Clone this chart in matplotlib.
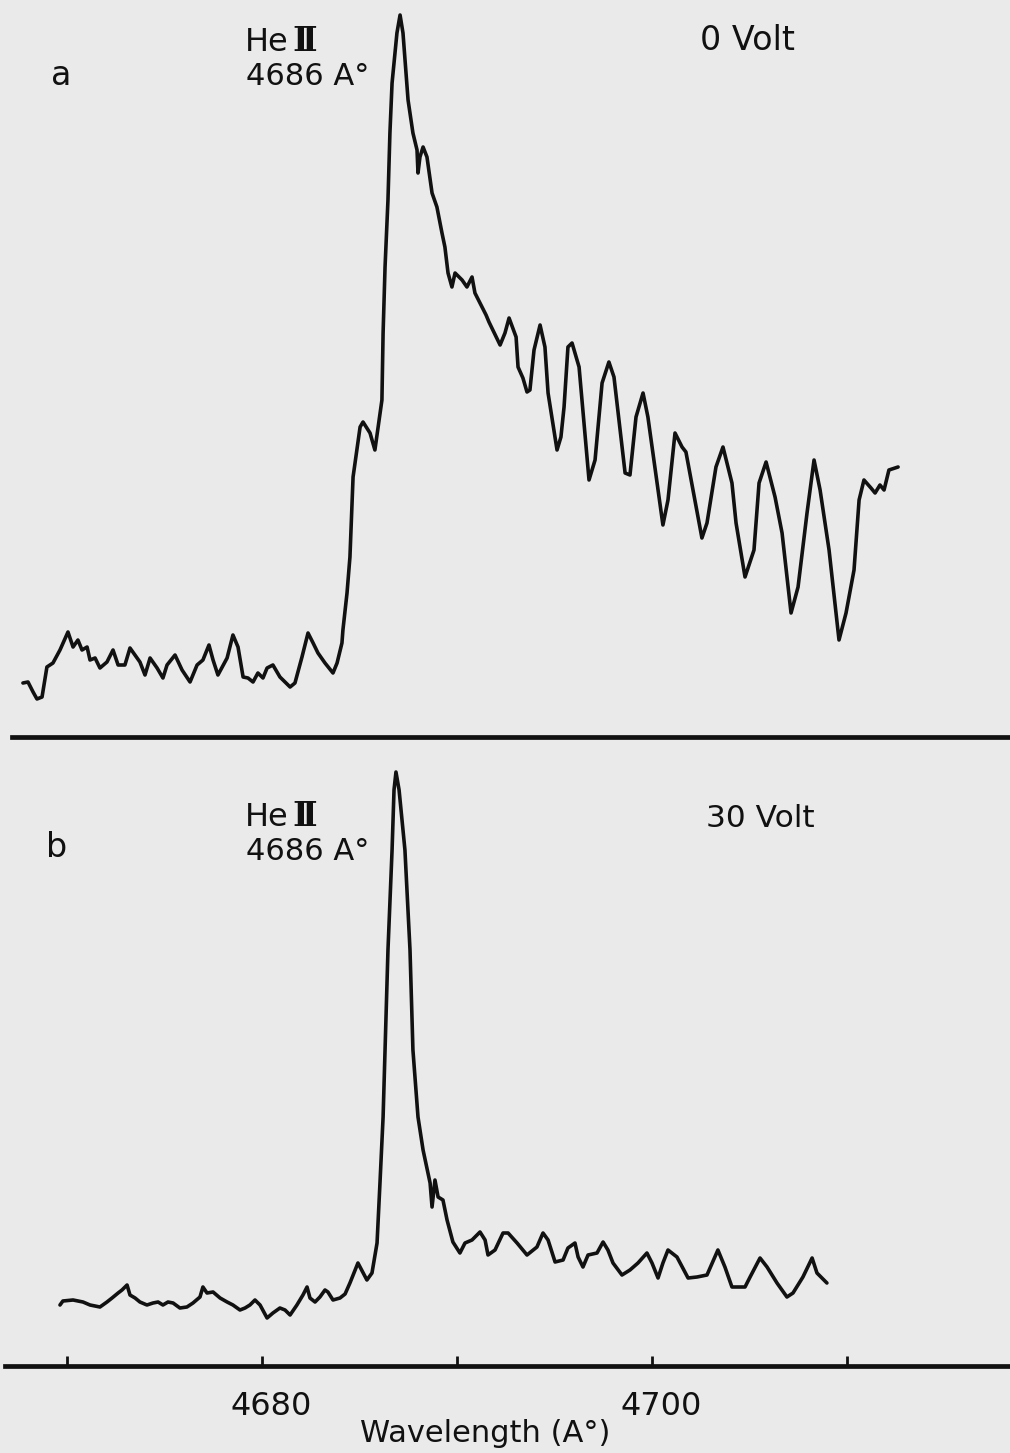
import numpy as np
import matplotlib
matplotlib.use("Agg")
import matplotlib.pyplot as plt

# panel a : 0 Volt  (wavelength in A, intensity in arbitrary recorder units)
wl_a = [4667.74, 4668.00, 4668.26, 4668.46, 4668.72, 4668.97, 4669.28, 4669.64, 4670.05, 4670.31,
        4670.56, 4670.77, 4671.03, 4671.18, 4671.44, 4671.69, 4672.05, 4672.36, 4672.62, 4672.97,
        4673.23, 4673.74, 4674.00, 4674.26, 4674.62, 4674.92, 4675.13, 4675.54, 4675.90, 4676.31,
        4676.67, 4676.97, 4677.28, 4677.49, 4677.74, 4678.21, 4678.51, 4678.77, 4679.03, 4679.28,
        4679.54, 4679.79, 4680.05, 4680.26, 4680.56, 4680.92, 4681.44, 4681.69, 4682.05, 4682.36,
        4682.62, 4682.87, 4683.23, 4683.64, 4683.85, 4684.10, 4684.15, 4684.36, 4684.51, 4684.67,
        4685.03, 4685.18, 4685.54, 4685.79, 4686.15, 4686.21, 4686.31, 4686.46, 4686.56, 4686.67,
        4686.92, 4687.08, 4687.23, 4687.49, 4687.74, 4687.95, 4688.00, 4688.10, 4688.26, 4688.46,
        4688.72, 4688.97, 4689.23, 4689.38, 4689.54, 4689.74, 4689.90, 4690.26, 4690.51, 4690.77,
        4690.92, 4691.28, 4691.49, 4691.64, 4692.21, 4692.46, 4692.67, 4693.03, 4693.13, 4693.38,
        4693.59, 4693.74, 4693.95, 4694.26, 4694.51, 4694.67, 4695.13, 4695.33, 4695.49, 4695.69,
        4695.90, 4696.26, 4696.77, 4697.08, 4697.44, 4697.79, 4698.05, 4698.62, 4698.87, 4699.18,
        4699.54, 4699.79, 4700.26, 4700.56, 4700.82, 4701.18, 4701.54, 4701.74, 4702.56, 4702.82,
        4703.28, 4703.64, 4704.10, 4704.31, 4704.77, 4705.23, 4705.49, 4705.85, 4706.31, 4706.67,
        4707.13, 4707.49, 4707.95, 4708.31, 4708.62, 4709.08, 4709.59, 4709.95, 4710.36, 4710.62,
        4710.87, 4711.23, 4711.44, 4711.69, 4711.90, 4712.15, 4712.62]
int_a = [54, 55, 45, 38, 40, 70, 74, 87, 105, 90,
         97, 87, 90, 77, 79, 69, 75, 87, 72, 72,
         89, 75, 62, 79, 69, 59, 72, 82, 67, 55,
         72, 77, 92, 77, 62, 79, 102, 90, 60, 59,
         55, 64, 59, 69, 72, 60, 50, 54, 80, 104,
         94, 84, 74, 64, 74, 94, 107, 144, 180, 260,
         310, 315, 304, 287, 337, 404, 470, 537, 604, 654,
         704, 722, 704, 637, 604, 587, 564, 580, 590, 580,
         544, 530, 504, 490, 464, 450, 464, 457, 450, 460,
         444, 430, 422, 415, 392, 404, 419, 400, 370, 359,
         345, 347, 387, 412, 390, 344, 287, 300, 330, 390,
         394, 370, 257, 277, 354, 375, 360, 264, 262, 320,
         344, 320, 254, 212, 237, 304, 290, 285, 199, 214,
         270, 290, 254, 214, 160, 187, 254, 275, 240, 204,
         124, 150, 224, 277, 247, 187, 97, 124, 167, 237,
         257, 249, 244, 252, 247, 267, 270]

# panel b : 30 Volt
wl_b = [4669.64, 4669.79, 4670.31, 4670.82, 4671.18, 4671.69, 4672.05, 4672.31, 4672.62, 4672.82,
        4673.08, 4673.23, 4673.49, 4673.74, 4674.10, 4674.41, 4674.67, 4674.92, 4675.18, 4675.44,
        4675.79, 4676.15, 4676.46, 4676.82, 4676.97, 4677.18, 4677.49, 4677.85, 4678.21, 4678.51,
        4678.87, 4679.13, 4679.38, 4679.64, 4679.90, 4680.26, 4680.56, 4680.92, 4681.18, 4681.44,
        4681.79, 4682.10, 4682.31, 4682.46, 4682.72, 4682.97, 4683.23, 4683.38, 4683.64, 4684.00,
        4684.26, 4684.51, 4684.92, 4685.38, 4685.64, 4685.90, 4686.05, 4686.21, 4686.31, 4686.46,
        4686.67, 4686.77, 4686.87, 4687.03, 4687.33, 4687.59, 4687.74, 4688.00, 4688.26, 4688.62,
        4688.72, 4688.87, 4689.03, 4689.28, 4689.49, 4689.79, 4690.15, 4690.41, 4690.77, 4691.18,
        4691.44, 4691.59, 4691.95, 4692.36, 4692.62, 4693.08, 4693.59, 4694.10, 4694.41, 4694.67,
        4695.03, 4695.44, 4695.69, 4696.05, 4696.21, 4696.46, 4696.72, 4697.18, 4697.49, 4697.74,
        4698.00, 4698.46, 4698.87, 4699.28, 4699.74, 4700.00, 4700.31, 4700.56, 4700.82, 4701.28,
        4701.85, 4702.31, 4702.82, 4703.38, 4703.74, 4704.10, 4704.77, 4705.03, 4705.54, 4705.90,
        4706.41, 4706.92, 4707.23, 4707.74, 4708.21, 4708.46, 4708.97]
int_b = [61, 65, 66, 64, 61, 59, 64, 68, 73, 76,
         81, 71, 68, 64, 61, 63, 64, 61, 64, 63,
         58, 59, 63, 69, 79, 73, 74, 68, 64, 61,
         56, 58, 61, 66, 61, 48, 53, 58, 56, 51,
         61, 71, 79, 68, 64, 69, 76, 74, 66, 68,
         72, 83, 103, 86, 93, 123, 183, 249, 316, 416,
         516, 576, 594, 576, 516, 416, 316, 249, 216, 183,
         159, 186, 169, 166, 146, 124, 113, 123, 126, 134,
         126, 111, 116, 133, 133, 123, 111, 119, 133, 126,
         104, 106, 118, 123, 109, 99, 111, 113, 124, 116,
         103, 91, 96, 103, 113, 103, 88, 103, 116, 109,
         88, 89, 91, 116, 99, 79, 79, 89, 108, 99,
         83, 69, 73, 89, 108, 93, 83]

tick_pos = [4670, 4680, 4690, 4700, 4710]
tick_labels = {4680: "4680", 4700: "4700"}

W, H = 1010, 1453
bg = "#eaeaea"
ink = "#111111"
xmin, xmax = 4680 - 262 / 19.5, 4680 + 748 / 19.5

fig = plt.figure(figsize=(W / 100, H / 100), dpi=100, facecolor=bg)
plt.rcParams["font.family"] = ["DejaVu Sans"]

y_a, y_b = 737, 1366
ax_a = fig.add_axes([0, 1 - y_a / H, 1, y_a / H])
ax_b = fig.add_axes([0, 1 - y_b / H, 1, (y_b - y_a) / H])

for ax, wl, it, top, x0 in [(ax_a, wl_a, int_a, y_a, 12), (ax_b, wl_b, int_b, y_b - y_a, 5)]:
    ax.set_facecolor("none")
    ax.plot(wl, it, color=ink, lw=2.6, solid_joinstyle="round", solid_capstyle="round")
    ax.set_xlim(xmin, xmax)
    ax.set_ylim(0, top)
    for s in ["top", "left", "right"]:
        ax.spines[s].set_visible(False)
    ax.spines["bottom"].set_linewidth(3.4)
    ax.spines["bottom"].set_color(ink)
    ax.spines["bottom"].set_bounds(xmin + x0 / 19.5, xmax)
    ax.set_yticks([])

ax_a.set_xticks([])
ax_b.set_xticks(tick_pos)
ax_b.tick_params(axis="x", direction="in", length=7, width=2, color=ink, labelbottom=False)


def ftext(px, py, s, size, ha="left", **kw):
    fig.text(px / W, 1 - py / H, s, fontsize=size, ha=ha, va="baseline", color=ink, **kw)


# panel labels
ftext(51, 85, "a", 24)
ftext(46, 857, "b", 24)
for base in (51, 826):
    ftext(245, base, "He", 23)
    ftext(292, base, "\u2161", 24, family=["DejaVu Serif"], weight="bold")
    ftext(246, base + 34, "4686 A\u00b0", 22)
ftext(700, 50, "0 Volt", 24)
ftext(706, 827, "30 Volt", 22.5)

for t, lab in tick_labels.items():
    px = 262 + (t - 4680) * 19.5 + 9
    ftext(px, 1415, lab, 23, ha="center")
ftext(485, 1442, "Wavelength (A\u00b0)", 22, ha="center")

fig.savefig("out.png", dpi=100, facecolor=bg)
